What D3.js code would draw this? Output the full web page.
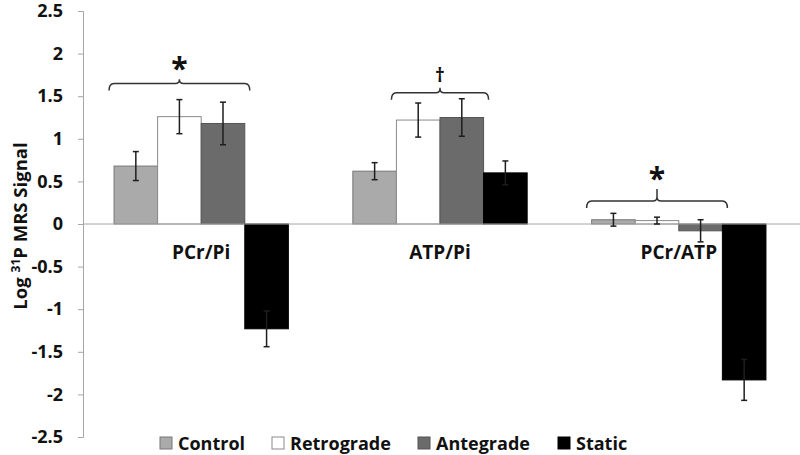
<!DOCTYPE html>
<html><head><meta charset="utf-8">
<script src="https://cdn.jsdelivr.net/npm/d3@7"></script>
<style>body{margin:0;background:#fff}svg{display:block}</style>
</head><body>
<svg id="c" width="800" height="455"></svg>
<script>
const categories = ["PCr/Pi", "ATP/Pi", "PCr/ATP"];
const seriesNames = ["Control", "Retrograde", "Antegrade", "Static"];
const controlVals = [0.68, 0.62, 0.05];
const controlErr = [0.17, 0.10, 0.075];
const retroVals = [1.26, 1.22, 0.04];
const retroErr = [0.20, 0.20, 0.04];
const anteVals = [1.18, 1.25, -0.08];
const anteErr = [0.25, 0.22, 0.13];
const staticVals = [-1.23, 0.60, -1.83];
const staticErr = [0.21, 0.14, 0.24];
const yTicks = [2.5, 2, 1.5, 1, 0.5, 0, -0.5, -1, -1.5, -2, -2.5];
// significance braces: category, first series, last series, symbol, brace level, tip level
const braceCat = ["PCr/Pi", "ATP/Pi", "PCr/ATP"];
const braceFrom = ["Control", "Retrograde", "Control"];
const braceTo = ["Antegrade", "Antegrade", "Antegrade"];
const braceSym = ["*", "\u2020", "*"];
const braceVal = [1.65, 1.54, 0.27];
const braceTip = [1.70, 1.60, 0.41];

const values = [controlVals, retroVals, anteVals, staticVals];
const errs = [controlErr, retroErr, anteErr, staticErr];
const fills = ["#aaaaaa", "#ffffff", "#6b6b6b", "#000000"];
const strokes = ["#777777", "#8a8a8a", "#555555", "#000000"];
const FONT = "'Open Sans', sans-serif";

const svg = d3.select("#c");
const y = d3.scaleLinear().domain([-2.5, 2.5]).range([437, 11]);
const x0 = d3.scaleBand().domain(categories).range([83, 797]).paddingInner(0.27).paddingOuter(0.13);
const x1 = d3.scaleBand().domain(seriesNames).range([0, x0.bandwidth()]);

// axis
const yAxis = d3.axisLeft(y).tickValues(yTicks).tickSize(5).tickFormat(d => String(d));
const ga = svg.append("g").attr("transform", "translate(83,0)").call(yAxis);
ga.select(".domain").attr("stroke", "#a6a6a6").attr("stroke-width", 1);
ga.selectAll(".tick line").attr("stroke", "#a6a6a6");
ga.selectAll(".tick text").attr("x", -20).attr("font-family", FONT).attr("font-weight", "bold")
  .attr("font-size", 18).attr("fill", "#111");

// bars
const data = [];
categories.forEach((c, i) => seriesNames.forEach((s, j) => data.push({c, s, j, v: values[j][i], e: errs[j][i]})));

const gb = svg.append("g");
gb.selectAll("rect").data(data).join("rect")
  .attr("x", d => x0(d.c) + x1(d.s))
  .attr("width", x1.bandwidth())
  .attr("y", d => y(Math.max(0, d.v)))
  .attr("height", d => Math.abs(y(d.v) - y(0)))
  .attr("fill", d => fills[d.j]).attr("stroke", d => strokes[d.j]).attr("stroke-width", 1);

// zero line
svg.append("line").attr("x1", 83).attr("x2", 800).attr("y1", y(0)).attr("y2", y(0))
  .attr("stroke", "#a6a6a6").attr("stroke-width", 1);

// error bars
const ge = svg.append("g").attr("stroke", "#1e1e1e").attr("stroke-width", 1.5);
data.forEach(d => {
  const cx = x0(d.c) + x1(d.s) + x1.bandwidth() / 2;
  const lo = y(d.v - d.e), hi = y(d.v + d.e);
  ge.append("line").attr("x1", cx).attr("x2", cx).attr("y1", lo).attr("y2", hi);
  ge.append("line").attr("x1", cx - 3).attr("x2", cx + 3).attr("y1", lo).attr("y2", lo);
  ge.append("line").attr("x1", cx - 3).attr("x2", cx + 3).attr("y1", hi).attr("y2", hi);
});

// category labels
svg.append("g").selectAll("text").data(categories).join("text")
  .attr("x", d => x0(d) + x0.bandwidth() / 2).attr("y", y(0) + 35)
  .attr("text-anchor", "middle").attr("font-family", FONT).attr("font-weight", "bold")
  .attr("font-size", 19).attr("fill", "#111").text(d => d);

// braces
braceCat.forEach((c, i) => {
  const xa = x0(c) + x1(braceFrom[i]) - 5;
  const xb = x0(c) + x1(braceTo[i]) + x1.bandwidth() + 5;
  const yy = y(braceVal[i]);
  const yt = y(braceTip[i]);
  const cx = (xa + xb) / 2;
  const p = d3.path();
  p.moveTo(xa, yy + 7);
  p.quadraticCurveTo(xa, yy, xa + 5, yy);
  p.lineTo(cx - 4, yy);
  p.quadraticCurveTo(cx, yy, cx, yy - 4);
  p.lineTo(cx, yt);
  p.moveTo(cx, yy - 4);
  p.quadraticCurveTo(cx, yy, cx + 4, yy);
  p.lineTo(xb - 5, yy);
  p.quadraticCurveTo(xb, yy, xb, yy + 7);
  svg.append("path").attr("d", p.toString()).attr("fill", "none").attr("stroke", "#333").attr("stroke-width", 1.5);
  const star = braceSym[i] === "*";
  svg.append("text").attr("x", cx).attr("y", star ? yt : yt - 6)
    .attr("text-anchor", "middle").attr("font-family", FONT)
    .attr("font-size", star ? 30 : 19).attr("font-weight", "bold").attr("fill", "#111")
    .text(braceSym[i]);
});

// y title
const yt = svg.append("text").attr("transform", "translate(27,226) rotate(-90)")
  .attr("text-anchor", "middle").attr("font-family", FONT).attr("font-weight", "bold")
  .attr("font-size", 18.5).attr("fill", "#111");
yt.append("tspan").text("Log ");
yt.append("tspan").attr("font-size", 12).attr("dy", -7).text("31");
yt.append("tspan").attr("dy", 7).text("P MRS Signal");

// legend
const legX = [160, 272, 418, 558];
const lg = svg.append("g");
seriesNames.forEach((s, j) => {
  lg.append("rect").attr("x", legX[j]).attr("y", 437).attr("width", 12).attr("height", 12)
    .attr("fill", fills[j]).attr("stroke", strokes[j]);
  lg.append("text").attr("x", legX[j] + 18).attr("y", 450).attr("font-family", FONT)
    .attr("font-weight", "bold").attr("font-size", 18).attr("fill", "#111").text(s);
});
</script>
</body></html>
